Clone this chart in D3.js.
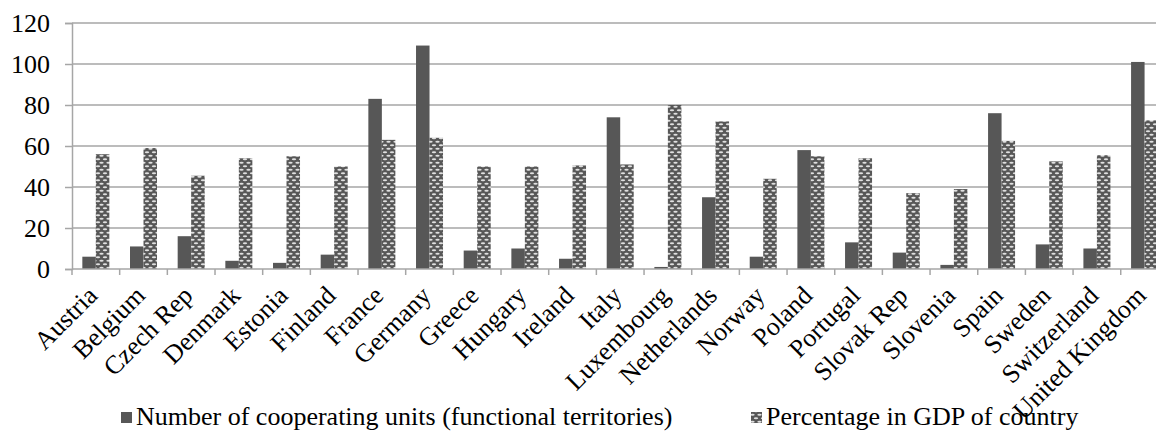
<!DOCTYPE html>
<html>
<head>
<meta charset="utf-8">
<script src="https://cdn.jsdelivr.net/npm/d3@7"></script>
<style>
  body { margin: 0; background: #fff; }
  text { font-family: "Liberation Serif", "Times New Roman", serif; fill: #000; }
</style>
</head>
<body>
<svg id="chart"></svg>
<script>
var w = 1156;
var h = 432;

var countries = ["Austria", "Belgium", "Czech Rep", "Denmark", "Estonia", "Finland", "France",
    "Germany", "Greece", "Hungary", "Ireland", "Italy", "Luxembourg", "Netherlands", "Norway",
    "Poland", "Portugal", "Slovak Rep", "Slovenia", "Spain", "Sweden", "Switzerland", "United Kingdom"];
var units = [6, 11, 16, 4, 3, 7, 83, 109, 9, 10, 5, 74, 1, 35, 6, 58, 13, 8, 2, 76, 12, 10, 101];
var gdpShare = [56, 59, 45.5, 54, 55, 50, 63, 64, 50, 50, 50.5, 51, 80, 72, 44, 55, 54, 37, 39, 62.5, 52.5, 55.5, 72.5];
var yTicks = [0, 20, 40, 60, 80, 100, 120];
var seriesNames = ["Number of cooperating units (functional territories)", "Percentage in GDP of country"];

var plotLeft = 72, plotTop = 23, plotBottom = 269;
var step = 47.67;
var fontPx = "26px";

let svg = d3.select("#chart")
    .attr("width", w)
    .attr("height", h);

// pattern fill for the second series
let defs = svg.append("defs");
let pat = defs.append("pattern")
    .attr("id", "dots")
    .attr("patternUnits", "userSpaceOnUse")
    .attr("width", 7)
    .attr("height", 7);
pat.append("rect").attr("width", 7).attr("height", 7).attr("fill", "#575757");
pat.append("ellipse").attr("cx", 3.5).attr("cy", 1.75).attr("rx", 2.2).attr("ry", 1.1).attr("fill", "#e0e0e0");
pat.append("ellipse").attr("cx", 0).attr("cy", 5.25).attr("rx", 2.2).attr("ry", 1.1).attr("fill", "#e0e0e0");
pat.append("ellipse").attr("cx", 7).attr("cy", 5.25).attr("rx", 2.2).attr("ry", 1.1).attr("fill", "#e0e0e0");

let xScale = d3.scaleBand()
    .domain(countries)
    .range([plotLeft, plotLeft + step * countries.length]);

let yScale = d3.scaleLinear()
    .domain([0, 120])
    .range([plotBottom, plotTop]);

let barW = 13.5;

// gridlines
svg.append("g")
    .selectAll("line")
    .data(yTicks.filter(d => d > 0))
    .join("line")
    .attr("x1", plotLeft).attr("x2", w)
    .attr("y1", d => yScale(d)).attr("y2", d => yScale(d))
    .attr("stroke", "#a6a6a6")
    .attr("stroke-width", 1.5);

// y axis
let yAxis = d3.axisLeft(yScale)
    .tickValues(yTicks)
    .tickSize(7)
    .tickPadding(15);
let yg = svg.append("g")
    .attr("transform", `translate(${plotLeft}, 0)`)
    .call(yAxis);
yg.attr("font-family", null).attr("font-size", null);
yg.select(".domain").attr("stroke", "#a6a6a6").attr("stroke-width", 1.5);
yg.selectAll(".tick line").attr("stroke", "#a6a6a6").attr("stroke-width", 1.5);
yg.selectAll("text").style("font-size", fontPx).attr("fill", "#000");

// bars
svg.append("g")
    .selectAll("rect")
    .data(units)
    .join("rect")
    .attr("x", (d, i) => xScale(countries[i]) + step / 2 - barW)
    .attr("y", d => yScale(d))
    .attr("width", barW)
    .attr("height", d => plotBottom - yScale(d))
    .attr("fill", "#575757");

svg.append("g")
    .selectAll("rect")
    .data(gdpShare)
    .join("rect")
    .attr("x", (d, i) => xScale(countries[i]) + step / 2)
    .attr("y", d => yScale(d))
    .attr("width", barW)
    .attr("height", d => plotBottom - yScale(d))
    .attr("fill", "url(#dots)");

// x axis line and ticks at category boundaries
svg.append("line")
    .attr("x1", plotLeft).attr("x2", w)
    .attr("y1", plotBottom).attr("y2", plotBottom)
    .attr("stroke", "#a6a6a6")
    .attr("stroke-width", 1.5);
svg.append("g")
    .selectAll("line")
    .data(countries)
    .join("line")
    .attr("x1", d => xScale(d)).attr("x2", d => xScale(d))
    .attr("y1", plotBottom).attr("y2", plotBottom + 6)
    .attr("stroke", "#a6a6a6")
    .attr("stroke-width", 1.5);

// rotated category labels
svg.append("g")
    .selectAll("text")
    .data(countries)
    .join("text")
    .attr("transform", d => `translate(${xScale(d) + step / 2 + 3}, 297) rotate(-45)`)
    .attr("text-anchor", "end")
    .style("font-size", fontPx)
    .text(d => d);

// legend
let legend = svg.append("g");
let lx = [121, 751];
seriesNames.forEach((name, i) => {
    legend.append("rect")
        .attr("x", lx[i]).attr("y", 412)
        .attr("width", 11).attr("height", 11)
        .attr("fill", i == 0 ? "#575757" : "url(#dots)");
    legend.append("text")
        .attr("x", lx[i] + 15).attr("y", 425)
        .style("font-size", fontPx)
        .text(name);
});
</script>
</body>
</html>
